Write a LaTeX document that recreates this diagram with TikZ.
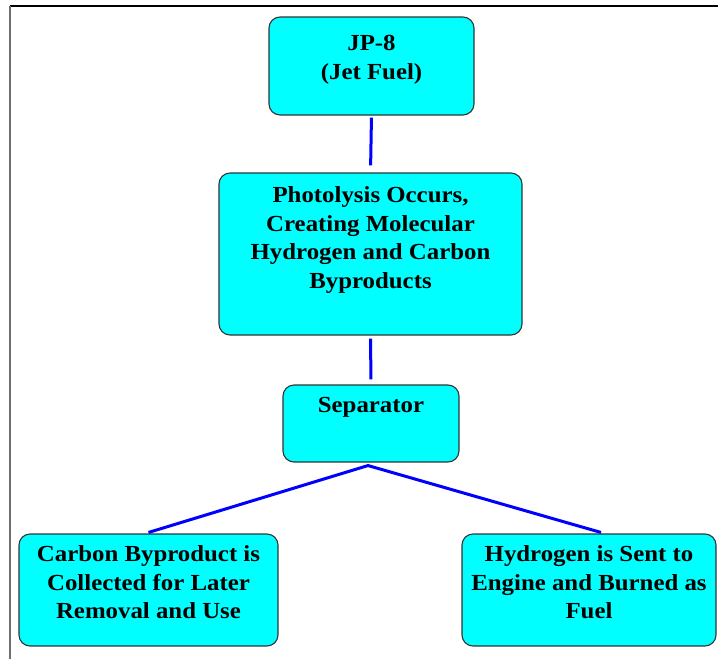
\documentclass[tikz,border=0pt]{standalone}
\usepackage{fontspec}
\setmainfont{Liberation Serif}[FakeStretch=1.08]
\usetikzlibrary{positioning}
\definecolor{boxcyan}{RGB}{0,255,255}
\definecolor{linkblue}{RGB}{0,0,255}
\definecolor{framegray}{RGB}{110,110,110}
\tikzset{
  box/.style={draw=black!80, line width=1.1pt, fill=boxcyan, rounded corners=11pt, inner sep=0pt},
  txt/.style={inner sep=0pt, align=center, font=\fontsize{23}{28.5}\selectfont\bfseries},
  link/.style={draw=linkblue, line width=3pt}
}
\begin{document}
\begin{tikzpicture}[x=1pt, y=-1pt]
    \useasboundingbox (0,0) rectangle (718,659);
    % frame
    \draw[line width=1.5pt] (10,6) -- (718,6);
    \draw[framegray, line width=1.5pt] (10,6) -- (10,659);
    % boxes
    \node[box, minimum width=205pt, minimum height=98pt] (jp8) at (371.5,66) {};
    \node[box, minimum width=303pt, minimum height=162pt] (photo) at (370.5,254) {};
    \node[box, minimum width=176pt, minimum height=77pt] (sep) at (371,423.5) {};
    \node[box, minimum width=259pt, minimum height=112pt] (carbon) at (148.5,590) {};
    \node[box, minimum width=254pt, minimum height=112pt] (hyd) at (589,590) {};
    % texts
    \node[txt, below=19pt of jp8.north] (jp8t) {JP-8\\(Jet Fuel)};
    \node[txt, below=14pt of photo.north] (photot) {Photolysis Occurs,\\Creating Molecular\\Hydrogen and Carbon\\Byproducts};
    \node[txt, below=13pt of sep.north] (sept) {Separator};
    \node[txt, below=12pt of carbon.north] (carbont) {Carbon Byproduct is\\Collected for Later\\Removal and Use};
    \node[txt, below=12pt of hyd.north] (hydt) {Hydrogen is Sent to\\Engine and Burned as\\Fuel};
    % connectors
    \draw[link, shorten <=2pt, shorten >=7pt] (jp8.south) -- (photo.north);
    \draw[link, shorten <=3pt, shorten >=5pt] (photo.south) -- (sep.north);
    \coordinate (split) at ([xshift=-3pt, yshift=-3pt]sep.south);
    \draw[link] ([yshift=1pt]carbon.north) -- (split) -- ([xshift=12pt, yshift=1pt]hyd.north);
\end{tikzpicture}
\end{document}
